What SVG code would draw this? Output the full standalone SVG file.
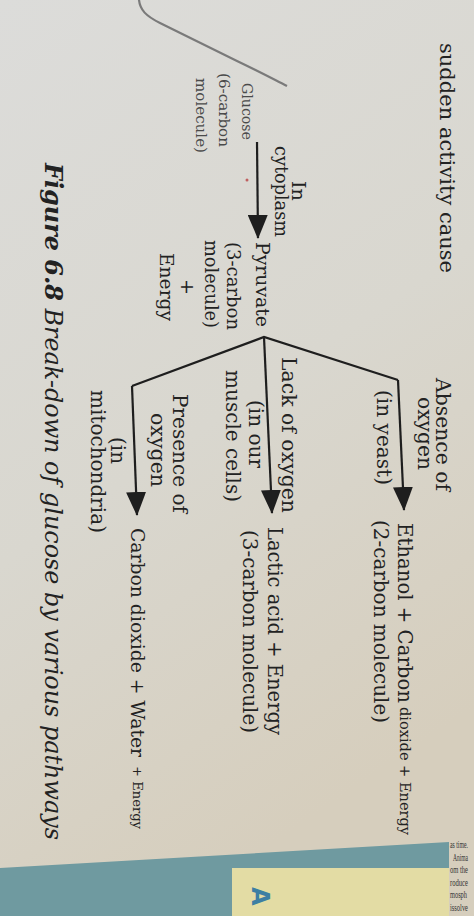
<svg xmlns="http://www.w3.org/2000/svg" width="474" height="916" viewBox="0 0 474 916">
<style>
.t{font-family:"DejaVu Serif","Liberation Serif",serif;font-size:20px;fill:#222}
.g{font-family:"DejaVu Serif","Liberation Serif",serif;font-size:15px;fill:#4a4a4a}
.cap{font-family:"DejaVu Serif","Liberation Serif",serif;font-size:24px;font-style:italic;fill:#222}
.pg{font-family:"Liberation Serif",serif;font-size:7px;fill:#333}
.ln{fill:none;stroke:#1e1e1e;stroke-width:2.2}
</style>
<defs>
<linearGradient id="paper" x1="0" y1="0" x2="0.35" y2="1">
<stop offset="0" stop-color="#dcdcda"/>
<stop offset="0.55" stop-color="#d9d7cf"/>
<stop offset="1" stop-color="#d6cebd"/>
</linearGradient>
<marker id="ah" markerUnits="userSpaceOnUse" markerWidth="24" markerHeight="20" refX="23" refY="10" orient="auto">
<path d="M0,0 L24,10 L0,20 z" fill="#1e1e1e"/>
</marker>
</defs>
<rect width="474" height="916" fill="url(#paper)"/>
<polygon points="0,868 449,842 449,916 0,916" fill="#6f9aa0"/>
<rect x="232" y="868" width="217" height="48" fill="#e3dca4"/>
<text x="0" y="0" transform="translate(252,887) rotate(90)" style="font-family:'DejaVu Sans',sans-serif;font-size:24px;font-weight:bold;fill:#3d7fa3">A</text>
<g id="page-fragments">
<text class="pg" transform="translate(450,848) scale(1,1.4)" textLength="18" lengthAdjust="spacingAndGlyphs">as time.</text>
<text class="pg" transform="translate(453,860.5) scale(1,1.4)" textLength="15" lengthAdjust="spacingAndGlyphs">Anima</text>
<text class="pg" transform="translate(450,873) scale(1,1.4)" textLength="18" lengthAdjust="spacingAndGlyphs">om the</text>
<text class="pg" transform="translate(450,885.5) scale(1,1.4)" textLength="18" lengthAdjust="spacingAndGlyphs">roduce</text>
<text class="pg" transform="translate(450,898) scale(1,1.4)" textLength="17" lengthAdjust="spacingAndGlyphs">mosph</text>
<text class="pg" transform="translate(450,910.5) scale(1,1.4)" textLength="18" lengthAdjust="spacingAndGlyphs">issolve</text>
</g>
<path d="M139,0 C140,10 146,16 160,23 L237,61 C260,72 275,80 287,86" fill="none" stroke="#7a7a7a" stroke-width="2.2"/>
<circle cx="247" cy="180" r="1.5" fill="#c06060"/>
<text class="t" transform="translate(440,43) rotate(90)" textLength="230" lengthAdjust="spacingAndGlyphs" style="font-size:21px">sudden activity cause</text>

<g id="connectors">
<path class="ln" d="M257,142 L258,238" marker-end="url(#ah)"/>
<path class="ln" d="M132,386 L264,337 L398,380"/>
<path class="ln" d="M132,386 L137,515" marker-end="url(#ah)"/>
<path class="ln" d="M264,337 L272,513" marker-end="url(#ah)"/>
<path class="ln" d="M398,380 L404,510" marker-end="url(#ah)"/>
</g>

<g id="glucose">
<text class="g" transform="translate(242,83) rotate(90)" textLength="57" lengthAdjust="spacingAndGlyphs">Glucose</text>
<text class="g" transform="translate(219,73) rotate(90)" textLength="74" lengthAdjust="spacingAndGlyphs">(6-carbon</text>
<text class="g" transform="translate(196,78) rotate(90)" textLength="75" lengthAdjust="spacingAndGlyphs">molecule)</text>
</g>

<g id="cytoplasm-label">
<text class="t" transform="translate(292,181) rotate(90)" textLength="20" lengthAdjust="spacingAndGlyphs" style="font-size:18px">In</text>
<text class="t" transform="translate(275,146) rotate(90)" textLength="91" lengthAdjust="spacingAndGlyphs" style="font-size:18px">cytoplasm</text>
</g>

<g id="pyruvate">
<text class="t" transform="translate(256,242) rotate(90)" textLength="85" lengthAdjust="spacingAndGlyphs" style="font-size:19px">Pyruvate</text>
<text class="t" transform="translate(227,242) rotate(90)" textLength="88" lengthAdjust="spacingAndGlyphs" style="font-size:19px">(3-carbon</text>
<text class="t" transform="translate(205,240) rotate(90)" textLength="88" lengthAdjust="spacingAndGlyphs" style="font-size:19px">molecule)</text>
<text class="t" transform="translate(181,279) rotate(90)" style="font-size:19px">+</text>
<text class="t" transform="translate(160,253) rotate(90)" textLength="68" lengthAdjust="spacingAndGlyphs" style="font-size:19px">Energy</text>
</g>

<g id="ethanol">
<text class="t" transform="translate(436,378) rotate(90)" textLength="113" lengthAdjust="spacingAndGlyphs">Absence of</text>
<text class="t" transform="translate(418,397) rotate(90)" textLength="73" lengthAdjust="spacingAndGlyphs">oxygen</text>
<text class="t" transform="translate(377,390) rotate(90)" textLength="95" lengthAdjust="spacingAndGlyphs">(in yeast)</text>
<text class="t" transform="translate(398,523) rotate(90)" textLength="180" lengthAdjust="spacingAndGlyphs">Ethanol + Carbon</text>
<text class="t" transform="translate(400,707) rotate(90)" textLength="128" lengthAdjust="spacingAndGlyphs" style="font-size:15px">dioxide + Energy</text>
<text class="t" transform="translate(374,520) rotate(90)" textLength="203" lengthAdjust="spacingAndGlyphs">(2-carbon molecule)</text>
</g>

<g id="lactic">
<text class="t" transform="translate(282,357) rotate(90)" textLength="156" lengthAdjust="spacingAndGlyphs">Lack of oxygen</text>
<text class="t" transform="translate(249,400) rotate(90)" textLength="68" lengthAdjust="spacingAndGlyphs">(in our</text>
<text class="t" transform="translate(226,370) rotate(90)" textLength="132" lengthAdjust="spacingAndGlyphs">muscle cells)</text>
<text class="t" transform="translate(268,527) rotate(90)" textLength="208" lengthAdjust="spacingAndGlyphs">Lactic acid + Energy</text>
<text class="t" transform="translate(243,530) rotate(90)" textLength="203" lengthAdjust="spacingAndGlyphs">(3-carbon molecule)</text>
</g>

<g id="respiration">
<text class="t" transform="translate(173,394) rotate(90)" textLength="119" lengthAdjust="spacingAndGlyphs">Presence of</text>
<text class="t" transform="translate(151,413) rotate(90)" textLength="74" lengthAdjust="spacingAndGlyphs">oxygen</text>
<text class="t" transform="translate(111,437) rotate(90)" textLength="27" lengthAdjust="spacingAndGlyphs">(in</text>
<text class="t" transform="translate(91,390) rotate(90)" textLength="143" lengthAdjust="spacingAndGlyphs">mitochondria)</text>
<text class="t" transform="translate(131,528) rotate(90)" textLength="229" lengthAdjust="spacingAndGlyphs" style="font-size:19px">Carbon dioxide + Water</text>
<text class="t" transform="translate(133,766) rotate(90)" textLength="63" lengthAdjust="spacingAndGlyphs" style="font-size:13px">+ Energy</text>
</g>

<g id="caption">
<text class="cap" transform="translate(45,163) rotate(90)" textLength="677" lengthAdjust="spacingAndGlyphs"><tspan font-weight="bold">Figure 6.8</tspan> Break-down of glucose by various pathways</text>
</g>
</svg>
